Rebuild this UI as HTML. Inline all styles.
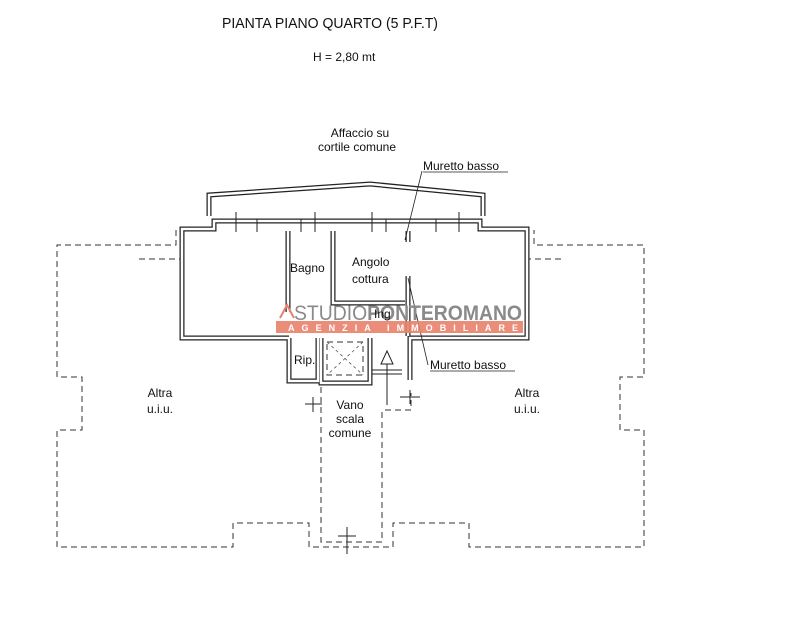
<!DOCTYPE html>
<html><head><style>
html,body{margin:0;padding:0;background:#fff;}
svg{display:block}
text{font-family:"Liberation Sans",Arial,sans-serif;fill:#111}
</style></head><body>
<svg width="800" height="635" viewBox="0 0 800 635" xmlns="http://www.w3.org/2000/svg">
<rect width="800" height="635" fill="#fff"/>
<text x="222" y="28" font-size="15" textLength="216" lengthAdjust="spacingAndGlyphs">PIANTA PIANO QUARTO (5 P.F.T)</text>
<text x="313" y="61" font-size="12">H = 2,80 mt</text>
<text x="360" y="137" font-size="12" text-anchor="middle">Affaccio su</text>
<text x="357" y="151" font-size="12" text-anchor="middle">cortile comune</text>

<g fill="none" stroke="#333" stroke-width="1" stroke-dasharray="6,4">
<polyline points="176,230 176,245 57,245 57,377 82,377 82,430 57,430 57,547 233,547 233,523 309,523 309,547 393,547 393,523 469,523 469,547 644,547 644,430 620,430 620,377 644,377 644,245 534,245 534,230"/>
<line x1="139" y1="259" x2="180" y2="259"/>
<line x1="525" y1="259" x2="562" y2="259"/>
<polyline points="321,387 321,542 382,542 382,412"/>
<polyline points="385,410 411,410 411,393"/>
<rect x="327" y="342" width="36" height="33"/>
</g>
<g stroke="#555" stroke-width="0.8" stroke-dasharray="3,3">
<line x1="327" y1="342" x2="363" y2="375"/><line x1="363" y1="342" x2="327" y2="375"/>
</g>

<g fill="none" stroke-linejoin="miter">
<g stroke="#222" stroke-width="5">
<polyline points="209,216 209,195 370,184 483,195 483,216"/>
<polyline points="289,338 182,338 182,229 214,229 214,221 480,221 480,229 527,229 527,338 410,338 410,380"/>
<polyline points="289,338 289,381 318,381 318,338"/>
<polyline points="288,231 288,312"/>
<polyline points="333,231 333,303 405,303"/>
<line x1="408" y1="276" x2="408" y2="336"/>
<line x1="408" y1="231" x2="408" y2="242"/>
<polyline points="321,338 321,383 370,383 370,338"/>
</g>
<g stroke="#fff" stroke-width="2.5">
<polyline points="209,216 209,195 370,184 483,195 483,216"/>
<polyline points="289,338 182,338 182,229 214,229 214,221 480,221 480,229 527,229 527,338 410,338 410,380"/>
<polyline points="289,338 289,381 318,381 318,338"/>
<polyline points="288,231 288,312"/>
<polyline points="333,231 333,303 405,303"/>
<line x1="408" y1="276" x2="408" y2="336"/>
<line x1="408" y1="231" x2="408" y2="242"/>
<polyline points="321,338 321,383 370,383 370,338"/>
</g>
</g>
<g stroke="#222" stroke-width="1">
<line x1="236" y1="212" x2="236" y2="232"/><line x1="315" y1="212" x2="315" y2="232"/>
<line x1="372" y1="212" x2="372" y2="232"/><line x1="459" y1="212" x2="459" y2="232"/>
<line x1="257" y1="219" x2="257" y2="232"/><line x1="301" y1="219" x2="301" y2="232"/>
<line x1="386" y1="219" x2="386" y2="232"/><line x1="436" y1="219" x2="436" y2="232"/>
<line x1="305" y1="404" x2="322" y2="404"/><line x1="313" y1="397" x2="313" y2="412"/>
<line x1="400" y1="397" x2="420" y2="397"/><line x1="410" y1="390" x2="410" y2="404"/>
<line x1="338" y1="536" x2="356" y2="536"/><line x1="347" y1="527" x2="347" y2="554"/>
<line x1="387" y1="353" x2="387" y2="405"/>
<line x1="372" y1="370" x2="402" y2="370"/><line x1="372" y1="374" x2="402" y2="374"/>
</g>
<polygon points="387,351 381,364 393,364" fill="#fff" stroke="#222" stroke-width="1"/>

<line x1="422" y1="171" x2="405" y2="240" stroke="#222" stroke-width="0.8"/>
<line x1="408" y1="278" x2="428" y2="365" stroke="#222" stroke-width="0.8"/>

<text x="423" y="170" font-size="12">Muretto basso</text>
<line x1="423" y1="172" x2="508" y2="172" stroke="#222" stroke-width="0.8"/>
<text x="430" y="369" font-size="12">Muretto basso</text>
<line x1="430" y1="371" x2="515" y2="371" stroke="#222" stroke-width="0.8"/>
<text x="290" y="272" font-size="12">Bagno</text>
<text x="352" y="266" font-size="12">Angolo</text>
<text x="352" y="283" font-size="12">cottura</text>

<rect x="276" y="321" width="247" height="12" fill="#e8826a" opacity="0.9"/>
<text x="294" y="320" font-size="21" style="fill:#8a8a8a" textLength="228" lengthAdjust="spacingAndGlyphs">STUDIO<tspan font-weight="bold">PONTEROMANO</tspan></text>
<text x="288" y="331" font-size="9" style="fill:#fff" font-weight="bold" textLength="230" lengthAdjust="spacing">AGENZIA IMMOBILIARE</text>
<path d="M280 318 L287 305 L294 318" fill="none" stroke="#e8826a" stroke-width="2"/>
<text x="374" y="318" font-size="12">Ing</text>
<text x="294" y="364" font-size="12">Rip.</text>
<text x="160" y="397" font-size="12" text-anchor="middle">Altra</text>
<text x="160" y="413" font-size="12" text-anchor="middle">u.i.u.</text>
<text x="527" y="397" font-size="12" text-anchor="middle">Altra</text>
<text x="527" y="413" font-size="12" text-anchor="middle">u.i.u.</text>
<text x="350" y="409" font-size="12" text-anchor="middle">Vano</text>
<text x="350" y="423" font-size="12" text-anchor="middle">scala</text>
<text x="350" y="437" font-size="12" text-anchor="middle">comune</text>
</svg>
</body></html>
